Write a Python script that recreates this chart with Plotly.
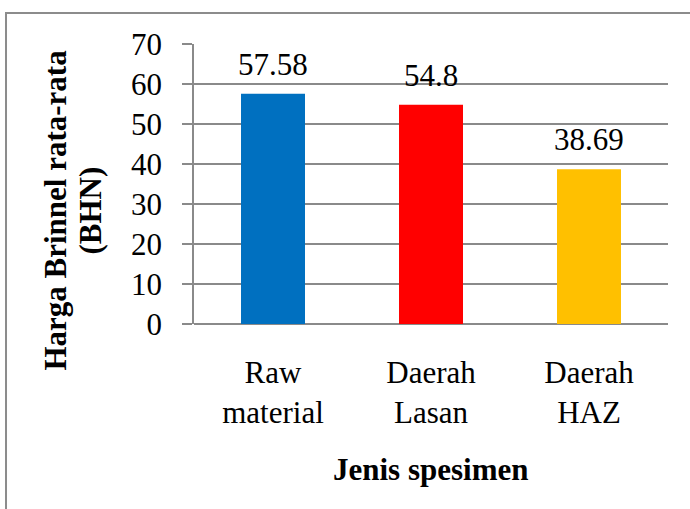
import plotly.graph_objects as go

categories = ["Raw<br>material", "Daerah<br>Lasan", "Daerah<br>HAZ"]
values = [57.58, 54.8, 38.69]
labels = ["57.58", "54.8", "38.69"]
colors = ["#0070C0", "#FF0000", "#FFC000"]
y_title_lines = ["Harga Brinnel rata-rata", "(BHN)"]
x_title = "Jenis spesimen"

FONT = "Liberation Serif, Times New Roman, serif"
GRID = "#8a8a8a"
FS = 31

fig = go.Figure(go.Bar(
    x=categories, y=values,
    marker=dict(color=colors, line=dict(width=0)),
    width=0.405, hoverinfo="x+y",
))

annotations = []
for c, v, t in zip(categories, values, labels):
    annotations.append(dict(x=c, y=v, xref="x", yref="y", text=t, showarrow=False,
                            yanchor="bottom", yshift=10,
                            font=dict(family=FONT, size=FS, color="black")))
for txt, px in zip(y_title_lines, [-0.2911, -0.2173]):
    annotations.append(dict(x=px, y=0.405, xref="paper", yref="paper", text=f"<b>{txt}</b>",
                            showarrow=False, textangle=-90, xanchor="center", yanchor="middle",
                            font=dict(family=FONT, size=FS, color="black")))
annotations.append(dict(x=0.5, y=-0.521, xref="paper", yref="paper", text=f"<b>{x_title}</b>",
                        showarrow=False, xanchor="center", yanchor="middle",
                        font=dict(family=FONT, size=FS, color="black")))

fig.update_layout(
    width=690, height=509,
    margin=dict(l=194, r=22, t=44, b=185),
    paper_bgcolor="white", plot_bgcolor="white",
    font=dict(family=FONT, size=FS, color="black"),
    showlegend=False,
    xaxis=dict(
        showgrid=False, showline=False, ticks="", ticklabelstandoff=27,
        tickfont=dict(size=FS),
    ),
    yaxis=dict(
        range=[0, 70], dtick=10, showgrid=True, gridcolor=GRID, gridwidth=1.5,
        showline=True, linecolor=GRID, linewidth=1.5,
        ticks="outside", ticklen=10, tickcolor=GRID, tickwidth=1.5, ticklabelstandoff=14,
        tickfont=dict(size=FS), zeroline=True, zerolinecolor=GRID, zerolinewidth=1.5,
    ),
    annotations=annotations,
    shapes=[dict(type="rect", xref="paper", yref="paper",
                 x0=-0.3966, x1=1.3, y0=-1.0, y1=1.1107,
                 line=dict(color="#8c8c8c", width=2), fillcolor="rgba(0,0,0,0)", layer="below")],
)

fig.write_html("out.html", config={"displayModeBar": False},
               post_script="document.body.style.margin='0';")
